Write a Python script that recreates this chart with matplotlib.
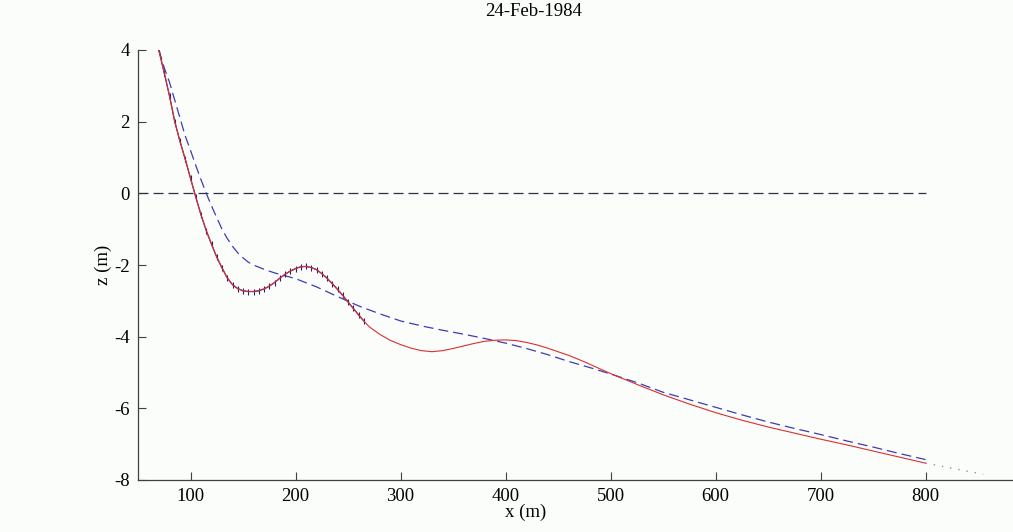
import matplotlib
matplotlib.use("Agg")
import matplotlib.pyplot as plt

# Measured profile (red), dense near shore where markers are drawn
x_meas = [70, 75, 80, 85, 90, 95, 100, 105, 110, 115, 120, 125, 130, 135, 140, 145,
          150, 155, 160, 165, 170, 175, 180, 185, 190, 195, 200, 205, 210, 215, 220,
          225, 230, 235, 240, 245, 250, 255, 260, 265,
          270, 280, 290, 300, 310, 320, 330, 340, 350, 360, 370, 380, 390, 400, 410,
          420, 430, 440, 450, 460, 475, 500, 525, 550, 575, 600, 625, 650, 675, 700,
          725, 750, 775, 800]
z_meas = [3.98, 3.36, 2.72, 2.00, 1.45, 0.95, 0.42, -0.10, -0.60, -1.04, -1.42, -1.78,
          -2.08, -2.36, -2.55, -2.66, -2.72, -2.74, -2.74, -2.72, -2.67, -2.59, -2.49,
          -2.37, -2.26, -2.17, -2.10, -2.05, -2.04, -2.07, -2.13, -2.24, -2.37, -2.52,
          -2.68, -2.85, -3.03, -3.21, -3.39, -3.56,
          -3.72, -3.93, -4.10, -4.22, -4.32, -4.39, -4.42, -4.39, -4.33, -4.26, -4.19,
          -4.13, -4.10, -4.09, -4.11, -4.16, -4.23, -4.32, -4.42, -4.52, -4.70, -5.03,
          -5.33, -5.62, -5.88, -6.12, -6.33, -6.52, -6.69, -6.86, -7.02, -7.19, -7.36,
          -7.53]
n_marked = 40  # first points carry tick markers

# Extrapolated tail (dotted)
x_tail = [800, 855]
z_tail = [-7.53, -7.84]

# Equilibrium profile (blue dashed)
x_eq = [70, 75, 80, 85, 90, 95, 100, 105, 110, 115, 120, 125, 130, 135, 140, 145, 150,
        155, 160, 170, 180, 190, 200, 220, 240, 260, 280, 300, 320, 340, 360, 380, 400,
        420, 440, 460, 480, 500, 525, 550, 575, 600, 625, 650, 675, 700, 725, 750, 775, 800]
z_eq = [4.0, 3.5, 3.1, 2.6, 2.1, 1.6, 1.2, 0.78, 0.38, 0.0, -0.35, -0.68, -1.0, -1.26,
        -1.48, -1.66, -1.80, -1.92, -2.00, -2.12, -2.22, -2.30, -2.38, -2.61, -2.88,
        -3.14, -3.36, -3.56, -3.70, -3.82, -3.93, -4.05, -4.18, -4.33, -4.50, -4.69,
        -4.86, -5.04, -5.28, -5.55, -5.76, -5.97, -6.18, -6.38, -6.56, -6.73, -6.91,
        -7.08, -7.26, -7.43]

# Mean water level
x_msl = [50, 800]
z_msl = [0, 0]

xticks = [100, 200, 300, 400, 500, 600, 700, 800]
yticks = [-8, -6, -4, -2, 0, 2, 4]
title = "24-Feb-1984"

serif = ["Liberation Serif", "DejaVu Serif"]
plt.rcParams["font.family"] = serif
plt.rcParams["axes.unicode_minus"] = False

W, H = 1013, 532
fig = plt.figure(figsize=(W / 100, H / 100), dpi=100, facecolor="#fbfdfb")
left, right, top, bottom = 138, 1030.5, 50, 480
ax = fig.add_axes([left / W, (H - bottom) / H, (right - left) / W, (bottom - top) / H])
ax.set_facecolor("#fbfdfb")

ax.plot(x_msl, z_msl, color="#303040", lw=0.9, dashes=(8, 4))
ax.plot(x_eq, z_eq, color="#3c3cb4", lw=0.9, dashes=(8, 4))
ax.plot(x_meas[:n_marked], z_meas[:n_marked], color="#3a2a80", lw=0.9,
        marker="|", ms=5, mew=0.8, mec="#2a1f6e")
ax.plot(x_meas, z_meas, color="#d83030", lw=0.8)
ax.plot(x_tail, z_tail, color="#b08888", lw=1.0, ls=(0, (1, 5)))

ax.set_xlim(50, 900)
ax.set_ylim(-8, 4)
ax.set_xticks(xticks)
ax.set_yticks(yticks)
ax.tick_params(direction="in", length=6, width=0.8, colors="#404040",
               labelcolor="black", labelsize=13.5, pad=6)
for s in ["top", "right"]:
    ax.spines[s].set_visible(False)
for s in ["left", "bottom"]:
    ax.spines[s].set_color("#404040")
    ax.spines[s].set_linewidth(0.9)

ax.set_xlabel("x (m)", fontsize=13.5)
ax.xaxis.set_label_coords((526 - left) / (right - left), -0.055)
ax.set_ylabel("z (m)", fontsize=13.5)
ax.yaxis.set_label_coords((112 - left) / (right - left), 0.5)

fig.text(534 / W, 1 - 12 / H, title, ha="center", va="center", fontsize=13.5)

fig.savefig("out.png", dpi=100, facecolor=fig.get_facecolor())
